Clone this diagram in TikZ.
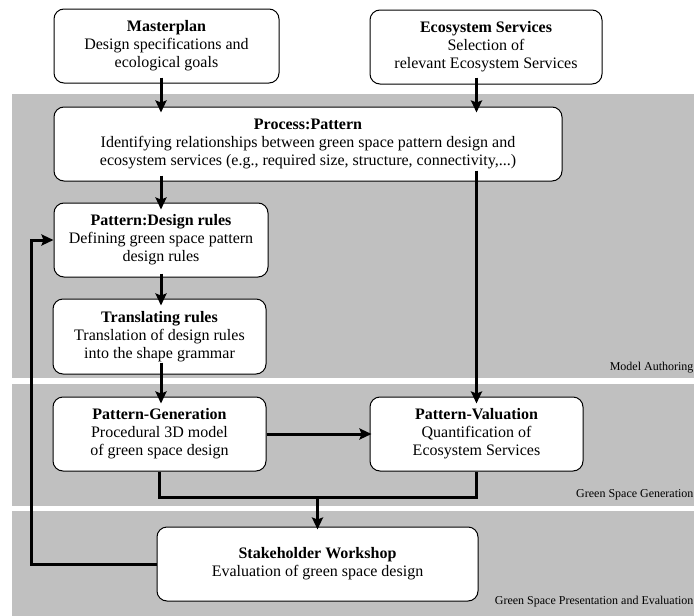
\documentclass[tikz,border=0pt]{standalone}
\usepackage{fontspec}
\setmainfont{Liberation Serif}
\usetikzlibrary{arrows.meta}
\definecolor{bandgray}{RGB}{192,192,192}

\begin{document}
\begin{tikzpicture}[x=1pt,y=-1pt,
        main box/.style={rectangle, rounded corners=10pt, draw, fill=white, line width=1pt,
        align=center, inner sep=0pt, minimum height=74pt, font=\fontsize{16}{18}\selectfont},
        flow/.style={-{Stealth[length=12pt,width=11pt,inset=2pt]}, line width=3pt},
        joint/.style={line width=3pt},
        band label/.style={anchor=base east, font=\fontsize{12}{14}\selectfont}
        ]
        \useasboundingbox (0,0) rectangle (694,616);

        % layers
        \fill[bandgray] (12,94) rectangle (694,378);
        \fill[bandgray] (12,384) rectangle (694,506);
        \fill[bandgray] (12,511) rectangle (694,616);
        \node [band label] (ma) at (697,370) {Model Authoring};
        \node [band label] (gg) at (697,497) {Green Space Generation};
        \node [band label] (ge) at (697,604) {Green Space Presentation and Evaluation};

        % boxes
        \node [main box, minimum width=225pt] (mp) at (166.5,46) {\textbf{Masterplan}\\Design specifications and\\ecological goals};
        \node [main box, minimum width=232pt] (es) at (486,47) {\textbf{Ecosystem Services}\\Selection of\\relevant Ecosystem Services};
        \node [main box, minimum width=508pt] (pp) at (308,144) {\textbf{Process:Pattern}\\Identifying relationships between green space pattern design and\\ecosystem services (e.g., required size, structure, connectivity,...)};
        \node [main box, minimum width=214pt] (dr) at (161,240) {\textbf{Pattern:Design rules}\\Defining green space pattern\\design rules};
        \node [main box, minimum width=213pt, minimum height=75pt] (tr) at (159.5,336.5) {\textbf{Translating rules}\\Translation of design rules\\into the shape grammar};
        \node [main box, minimum width=213pt] (pg) at (159.5,434) {\textbf{Pattern-Generation}\\Procedural 3D model\\of green space design};
        \node [main box, minimum width=213pt] (pv) at (476.5,434) {\textbf{Pattern-Valuation}\\Quantification of\\Ecosystem Services};
        \node [main box, minimum width=321pt] (sw) at (317.5,564) {\textbf{Stakeholder Workshop}\\Evaluation of green space design};

        \coordinate (merge) at (317.5,497);
        \coordinate (back) at (31,400);

        % connectors (tips run a little into the boxes)
        \draw [flow] ([yshift=6pt]mp.south -| dr.north) -- ([yshift=-6pt]pp.north -| dr.north);
        \draw [flow] ([yshift=7pt]es.south -| pv.north) -- ([yshift=-6pt]pp.north -| pv.north);
        \draw [flow] ([yshift=6pt]pp.south -| dr.north) -- ([yshift=-7pt]dr.north);
        \draw [flow] ([yshift=11pt]pp.south -| pv.north) -- ([yshift=-7pt]pv.north);
        \draw [flow] ([yshift=4pt]dr.south) -- ([yshift=-7pt]tr.north -| dr.north);
        \draw [flow] ([yshift=12pt]tr.south -| dr.north) -- ([yshift=-7pt]pg.north -| dr.north);
        \draw [flow] (pg.east) -- ([xshift=2pt]pv.west);
        \draw [joint] (pg.south) |- (merge) -| (pv.south);
        \draw [flow] (merge) -- ([yshift=-3pt]sw.north);
        \draw [flow] (sw.west) -| (back) |- (dr.west);
\end{tikzpicture}
\end{document}
